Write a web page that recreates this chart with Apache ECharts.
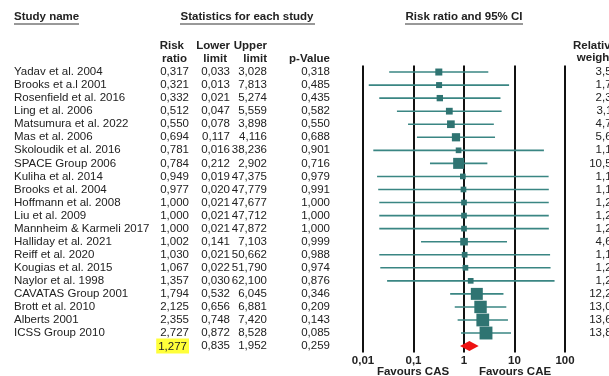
<!DOCTYPE html>
<html><head><meta charset="utf-8">
<script src="https://cdn.jsdelivr.net/npm/echarts@6/dist/echarts.min.js"></script>
<style>html,body{margin:0;padding:0;background:#fff}#c{width:609px;height:376px}</style>
</head><body><div id="c"></div>
<script>
const studies = ["Yadav et al. 2004","Brooks et a.l 2001","Rosenfield et al. 2016","Ling et al. 2006","Matsumura et al. 2022","Mas et al. 2006","Skoloudik et al. 2016","SPACE Group 2006","Kuliha et al. 2014","Brooks et al. 2004","Hoffmann et al. 2008","Liu et al. 2009","Mannheim & Karmeli 2017","Halliday et al. 2021","Reiff et al. 2020","Kougias et al. 2015","Naylor et al. 1998","CAVATAS Group 2001","Brott et al. 2010","Alberts 2001","ICSS Group 2010"];
const riskRatio = [0.317,0.321,0.332,0.512,0.550,0.694,0.781,0.784,0.949,0.977,1.000,1.000,1.000,1.002,1.030,1.067,1.357,1.794,2.125,2.355,2.727];
const lowerLimit = [0.033,0.013,0.021,0.047,0.078,0.117,0.016,0.212,0.019,0.020,0.021,0.021,0.021,0.141,0.021,0.022,0.030,0.532,0.656,0.748,0.872];
const upperLimit = [3.028,7.813,5.274,5.559,3.898,4.116,38.236,2.902,47.375,47.779,47.677,47.712,47.872,7.103,50.662,51.790,62.100,6.045,6.881,7.420,8.528];
const pValue = [0.318,0.485,0.435,0.582,0.550,0.688,0.901,0.716,0.979,0.991,1.000,1.000,1.000,0.999,0.988,0.974,0.876,0.346,0.209,0.143,0.085];
const relWeight = [3.52,1.75,2.34,3.11,4.72,5.64,1.17,10.56,1.16,1.16,1.21,1.21,1.21,4.63,1.17,1.21,1.22,12.24,13.03,13.65,13.81];
const summary = {rr:1.277, lower:0.835, upper:1.952, p:0.259};
const xTicks = [0.01,0.1,1,10,100];

const fmt = v => v.toFixed(3).replace('.', ',');
const n = studies.length;
const cats = studies.concat(['']);
const colRR = riskRatio.map(fmt).concat(['{hl|' + fmt(summary.rr) + '}']);
const colLo = lowerLimit.map(fmt).concat([fmt(summary.lower)]);
const colUp = upperLimit.map(fmt).concat([fmt(summary.upper)]);
const colP = pValue.map(fmt).concat([fmt(summary.p)]);
const colW = relWeight.map(v => v.toFixed(2).replace('.', ',')).concat(['']);

const TXT = '#222';
const FONT = 'Liberation Sans, Arial, sans-serif';
const FS = 11.5;
function colAxis(data, offset, align, pos){
  return {type:'category', data:data, inverse:true, gridIndex:0, position:pos||'left', offset:offset,
    axisLine:{show:false}, axisTick:{show:false}, splitLine:{show:false},
    axisLabel:{interval:0, margin:0, align:align, color:TXT, fontSize:FS, fontFamily:FONT,
      rich:{hl:{backgroundColor:'#ffff3a', padding:[2,2,1,2], color:TXT, fontSize:FS, fontFamily:FONT}}}};
}

const ciData = riskRatio.map((r,i)=>[lowerLimit[i], upperLimit[i], r, i, relWeight[i]]);
const LEFT = 363, RIGHT_X = 565, TOP = 65.5, ROWH = 13.05;

const chart = echarts.init(document.getElementById('c'), null, {renderer:'canvas'});
const bold = 'bold 11.5px Liberation Sans, Arial, sans-serif';
function hdr(text, x, y, align){
  return {type:'text', style:{text:text, x:x, y:y, font:bold, fill:TXT, textAlign:align||'left', textVerticalAlign:'middle'}};
}
function ul(x1, x2, y){
  return {type:'line', shape:{x1:x1, y1:y, x2:x2, y2:y}, style:{stroke:'#333', lineWidth:1}};
}
chart.setOption({
  animation:false,
  grid:{left:LEFT, top:TOP, width:RIGHT_X-LEFT, height:ROWH*(n+1), containLabel:false, outerBoundsMode:'none'},
  xAxis:{type:'log', logBase:10, min:xTicks[0], max:xTicks[xTicks.length-1], position:'bottom',
    axisLine:{show:false}, axisTick:{show:false},
    splitLine:{show:true, lineStyle:{color:'#111', width:2}},
    axisLabel:{margin:2, color:TXT, fontWeight:'bold', fontSize:11.5, fontFamily:FONT,
      formatter:v => String(v).replace('.', ',')}},
  yAxis:[
    colAxis(cats, LEFT-14, 'left'),
    colAxis(colRR, LEFT-189, 'right'),
    colAxis(colLo, LEFT-230, 'right'),
    colAxis(colUp, LEFT-267, 'right'),
    colAxis(colP, LEFT-330, 'right'),
    colAxis(colW, 618-RIGHT_X, 'right', 'right')
  ],
  graphic:[
    hdr('Study name', 14, 17), ul(14, 79, 24),
    hdr('Statistics for each study', 247, 17, 'center'), ul(180, 315, 24),
    hdr('Risk ratio and 95% CI', 464, 17, 'center'), ul(405, 523, 24),
    hdr('Risk', 184, 46, 'right'), hdr('ratio', 187, 59, 'right'),
    hdr('Lower', 230, 46, 'right'), hdr('limit', 227, 59, 'right'),
    hdr('Upper', 267, 46, 'right'), hdr('limit', 267, 59, 'right'),
    hdr('p-Value', 330, 59, 'right'),
    hdr('Relative', 595, 46, 'center'), hdr('weight', 595, 58, 'center'),
    hdr('Favours CAS', 413, 372, 'center'), hdr('Favours CAE', 515, 372, 'center')
  ],
  series:[
    {type:'custom', xAxisIndex:0, yAxisIndex:0, data:ciData, encode:{x:[0,1,2], y:3}, clip:false,
      renderItem:function(params, api){
        const i = api.value(3);
        const pl = api.coord([api.value(0), i]);
        const pu = api.coord([api.value(1), i]);
        const pr = api.coord([api.value(2), i]);
        const s = 5 + 0.57*api.value(4);
        return {type:'group', children:[
          {type:'line', shape:{x1:pl[0], y1:pl[1], x2:pu[0], y2:pu[1]}, style:{stroke:'#3a8683', lineWidth:1.6}},
          {type:'rect', shape:{x:pr[0]-s/2, y:pr[1]-s/2, width:s, height:s}, style:{fill:'#2f7472'}}
        ]};
      }},
    {type:'custom', xAxisIndex:0, yAxisIndex:0, data:[[summary.lower, summary.upper, summary.rr, n]], encode:{x:[0,1,2], y:3}, clip:false,
      renderItem:function(params, api){
        const i = api.value(3);
        const pl = api.coord([api.value(0), i]);
        const pu = api.coord([api.value(1), i]);
        const pr = api.coord([api.value(2), i]);
        const h = 5;
        return {type:'polygon', shape:{points:[[pl[0], pl[1]], [pr[0], pr[1]-h], [pu[0], pu[1]], [pr[0], pr[1]+h]]}, style:{fill:'#ee1111'}};
      }}
  ]
});
</script></body></html>
